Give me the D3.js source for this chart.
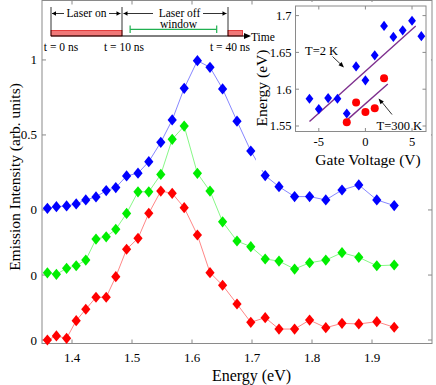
<!DOCTYPE html>
<html>
<head>
<meta charset="utf-8">
<script src="https://cdn.jsdelivr.net/npm/d3@7"></script>
<style>
  body { margin: 0; background: #fff; }
  svg { display: block; }
  text { font-family: 'Liberation Serif', 'DejaVu Serif', serif; }
</style>
</head>
<body>
<div id="chart"></div>
<script>
// main spectra
const energy = [1.359, 1.374, 1.391, 1.407, 1.423, 1.440, 1.457, 1.473, 1.491, 1.510,
  1.528, 1.548, 1.567, 1.587, 1.609, 1.630, 1.651, 1.675, 1.698, 1.722,
  1.745, 1.771, 1.796, 1.823, 1.850, 1.878, 1.908, 1.937];
const blueI = [0.011, 0.022, 0.027, 0.040, 0.067, 0.087, 0.129, 0.149, 0.227, 0.245,
  0.322, 0.451, 0.600, 0.811, 0.995, 0.951, 0.807, 0.592, 0.393, 0.229,
  0.155, 0.089, 0.089, 0.067, 0.133, 0.167, 0.067, 0.029];
const greenI = [0.015, 0.005, 0.045, 0.062, 0.100, 0.240, 0.255, 0.305, 0.411, 0.555,
  0.555, 0.671, 0.905, 0.993, 0.678, 0.560, 0.355, 0.227, 0.189, 0.107,
  0.093, 0.040, 0.082, 0.100, 0.149, 0.118, 0.062, 0.067];
const redI = [0.000, 0.027, 0.011, 0.129, 0.205, 0.285, 0.285, 0.422, 0.605, 0.678,
  0.845, 0.993, 0.978, 0.882, 0.700, 0.449, 0.365, 0.240, 0.118, 0.149,
  0.073, 0.073, 0.133, 0.082, 0.111, 0.107, 0.122, 0.085];
const offsets = [0, 0.433, 0.867];          // red, green, blue baselines
const seriesColors = ["#ff0000", "#00ee00", "#0000ff"];
const xTicks = [1.4, 1.5, 1.6, 1.7, 1.8, 1.9];
const yTickVals = [0, 0.433, 0.867, 1.367, 1.867];
const yTickLabels = ["0", "0", "0", "0.5", "1"];

// inset
const gateV = [-6, -5, -4, -3, -2, -1, 0, 1, 2, 3, 4, 5, 6];
const energy2K = [1.587, 1.573, 1.588, 1.587, 1.567, 1.631, 1.612, 1.646, 1.686, 1.671, 1.680, 1.693, 1.672];
const gateV300 = [-2, -1, 0, 1, 2];
const energy300K = [1.555, 1.582, 1.569, 1.574, 1.615];
const fit2K = [[-6, 1.556], [5.4, 1.686]];
const fit300K = [[-1.9, 1.559], [2.4, 1.607]];
const insetXTicks = [-5, 0, 5];
const insetYTicks = [1.55, 1.6, 1.65, 1.7];

// timing diagram (ns)
const pulses = [[0, 10], [40, 42]];
const offWindow = [12.3, 36.8];
const timeMarks = [0, 10, 40];

const W = 436, H = 385;
const svg = d3.select("#chart").append("svg").attr("width", W).attr("height", H)
  .attr("font-family", "'Liberation Serif', serif");
const axisCol = "#8a8a8a";

const x = d3.scaleLinear().domain([1.35, 2.0]).range([42, 432]);
const y = d3.scaleLinear().domain([0, 1]).range([340, 190]);
const yTop = y.invert(0.5), yBot = y.invert(343.5);

// diamond marker with its own half width / half height
const rhombus = (hw, hh) => ({
  draw(ctx) { ctx.moveTo(0, -hh); ctx.lineTo(hw, 0); ctx.lineTo(0, hh); ctx.lineTo(-hw, 0); ctx.closePath(); }
});
const diamond = d3.symbol().type(rhombus(4.6, 5.6));

// plot frame
svg.append("rect")
  .attr("x", x(1.35)).attr("y", y(yTop))
  .attr("width", x(2.0) - x(1.35)).attr("height", y(yBot) - y(yTop))
  .attr("fill", "none").attr("stroke", axisCol).attr("stroke-width", 1);

// ticks, inward, mirrored
const tickG = svg.append("g").attr("stroke", axisCol).attr("stroke-width", 1);
xTicks.forEach(t => {
  tickG.append("line").attr("x1", x(t)).attr("x2", x(t)).attr("y1", y(yBot)).attr("y2", y(yBot) - 4);
  tickG.append("line").attr("x1", x(t)).attr("x2", x(t)).attr("y1", y(yTop)).attr("y2", y(yTop) + 4);
});
yTickVals.forEach(t => {
  tickG.append("line").attr("x1", x(1.35)).attr("x2", x(1.35) + 4).attr("y1", y(t)).attr("y2", y(t));
  tickG.append("line").attr("x1", x(2.0)).attr("x2", x(2.0) - 4).attr("y1", y(t)).attr("y2", y(t));
});
svg.append("g").selectAll("text").data(xTicks).join("text")
  .attr("x", d => x(d)).attr("y", 362).attr("text-anchor", "middle")
  .attr("font-size", 13).text(d => d3.format(".1f")(d));
svg.append("g").selectAll("text").data(yTickVals).join("text")
  .attr("x", 37).attr("y", d => y(d) + 4.5).attr("text-anchor", "end")
  .attr("font-size", 13).text((d, i) => yTickLabels[i]);

svg.append("text").attr("x", 251.5).attr("y", 381).attr("text-anchor", "middle")
  .attr("font-size", 16).text("Energy (eV)");
svg.append("text").attr("transform", "translate(20,177) rotate(-90)")
  .attr("text-anchor", "middle").attr("font-size", 15.5).text("Emission Intensity (arb. units)");

// spectra
[redI, greenI, blueI].forEach((vals, k) => {
  const pts = energy.map((e, i) => [e, vals[i] + offsets[k]]);
  const g = svg.append("g");
  g.append("path").datum(pts)
    .attr("d", d3.line().x(d => x(d[0])).y(d => y(d[1])))
    .attr("fill", "none").attr("stroke", seriesColors[k]).attr("stroke-width", 0.8).attr("stroke-opacity", 0.6);
  g.selectAll("path.m").data(pts).join("path").attr("class", "m")
    .attr("transform", d => `translate(${x(d[0])},${y(d[1])})`)
    .attr("d", diamond).attr("fill", seriesColors[k]);
});

// inset
const ix = d3.scaleLinear().domain([-7.5, 6.5]).range([295.5, 426]);
const iy = d3.scaleLinear().domain([1.55, 1.7]).range([126, 15.6]);
const ig = svg.append("g");
ig.append("rect").attr("x", 256).attr("y", 2).attr("width", 175).attr("height", 168).attr("fill", "#fff");
ig.append("rect").attr("x", ix(-7.5)).attr("y", 6).attr("width", ix(6.5) - ix(-7.5)).attr("height", 125.5)
  .attr("fill", "#fff").attr("stroke", axisCol).attr("stroke-width", 1);
insetXTicks.forEach(v => {
  ig.append("line").attr("x1", ix(v)).attr("x2", ix(v)).attr("y1", 131.5).attr("y2", 128).attr("stroke", axisCol);
  ig.append("line").attr("x1", ix(v)).attr("x2", ix(v)).attr("y1", 6).attr("y2", 9.5).attr("stroke", axisCol);
});
insetYTicks.forEach(v => {
  ig.append("line").attr("x1", ix(-7.5)).attr("x2", ix(-7.5) + 3.5).attr("y1", iy(v)).attr("y2", iy(v)).attr("stroke", axisCol);
  ig.append("line").attr("x1", ix(6.5)).attr("x2", ix(6.5) - 3.5).attr("y1", iy(v)).attr("y2", iy(v)).attr("stroke", axisCol);
});
ig.selectAll("text.xt").data(insetXTicks).join("text").attr("class", "xt")
  .attr("x", d => ix(d)).attr("y", 146).attr("text-anchor", "middle").attr("font-size", 12.5).text(d => d);
ig.selectAll("text.yt").data(insetYTicks).join("text").attr("class", "yt")
  .attr("x", 291.5).attr("y", d => iy(d) + 4.3).attr("text-anchor", "end").attr("font-size", 12.5)
  .text(d => d3.format("")(d));
ig.append("text").attr("x", 368).attr("y", 165).attr("text-anchor", "middle").attr("font-size", 15.5).text("Gate Voltage (V)");
ig.append("text").attr("transform", "translate(267,88) rotate(-90)").attr("text-anchor", "middle")
  .attr("font-size", 15.5).text("Energy (eV)");

const purple = "#7e2f8e";
[fit2K, fit300K].forEach(f => {
  ig.append("path").datum(f).attr("d", d3.line().x(d => ix(d[0])).y(d => iy(d[1])))
    .attr("stroke", purple).attr("stroke-width", 1.4).attr("fill", "none");
});
ig.selectAll("path.d2").data(gateV).join("path").attr("class", "d2")
  .attr("transform", (d, i) => `translate(${ix(d)},${iy(energy2K[i])})`)
  .attr("d", d3.symbol().type(rhombus(3.9, 5.1))).attr("fill", "#0000ff");
ig.selectAll("circle").data(gateV300).join("circle")
  .attr("cx", d => ix(d)).attr("cy", (d, i) => iy(energy300K[i])).attr("r", 4).attr("fill", "#ff0000");

// annotations
ig.append("text").attr("x", 305).attr("y", 54.5).attr("font-size", 12.5).text("T=2 K");
ig.append("line").attr("x1", 332.5).attr("y1", 56.5).attr("x2", 341.5).attr("y2", 65).attr("stroke", "#000").attr("stroke-width", 0.8);
ig.append("path").attr("d", "M344,67.5 L338.5,65.2 L341.6,62 Z").attr("fill", "#000");
ig.append("text").attr("x", 376.5).attr("y", 130).attr("font-size", 12.5).text("T=300 K");
ig.append("line").attr("x1", 392).attr("y1", 114.5).attr("x2", 381).attr("y2", 101).attr("stroke", "#000").attr("stroke-width", 0.8);
ig.append("path").attr("d", "M378.5,98.5 L380.5,104.2 L383.8,101.5 Z").attr("fill", "#000");

// timing diagram (drawn last so "Time" sits over the inset margin)
const t = d3.scaleLinear().domain([0, 10, 40, 42]).range([51, 122, 228, 242.5]);
const dg = svg.append("g");
dg.selectAll("rect").data(pulses).join("rect")
  .attr("x", d => t(d[0])).attr("width", d => t(d[1]) - t(d[0]))
  .attr("y", 30.5).attr("height", 5.5)
  .attr("fill", "#f07878").attr("stroke", "#e02020").attr("stroke-width", 0.8);
dg.append("line").attr("x1", t(0)).attr("x2", 246).attr("y1", 36).attr("y2", 36)
  .attr("stroke", "#000").attr("stroke-width", 1);
dg.append("path").attr("d", "M251,36 L244,33 L244,39 Z").attr("fill", "#000");
dg.append("text").attr("x", 251).attr("y", 40.5).attr("font-size", 11.5).text("Time");
timeMarks.forEach(m => {
  dg.append("line").attr("x1", t(m)).attr("x2", t(m)).attr("y1", 7).attr("y2", 36)
    .attr("stroke", "#000").attr("stroke-width", 0.8);
});
dg.selectAll("text.tm").data(timeMarks).join("text").attr("class", "tm")
  .attr("x", d => t(d) + (d === 0 ? 10 : 2)).attr("y", 51).attr("text-anchor", "middle")
  .attr("font-size", 11.5).text(d => `t = ${d} ns`);
// window
const gw = "#20b050";
dg.append("line").attr("x1", t(offWindow[0])).attr("x2", t(offWindow[1])).attr("y1", 29.3).attr("y2", 29.3)
  .attr("stroke", gw).attr("stroke-width", 1.2);
offWindow.forEach(w => dg.append("line").attr("x1", t(w)).attr("x2", t(w)).attr("y1", 25.5).attr("y2", 33)
  .attr("stroke", gw).attr("stroke-width", 1.2));
// arrows with labels
function arrow(x1, x2, yy) {
  dg.append("line").attr("x1", x1).attr("x2", x2).attr("y1", yy).attr("y2", yy).attr("stroke", "#000").attr("stroke-width", 0.8);
  const dir = x2 > x1 ? -1 : 1;
  dg.append("path").attr("d", `M${x2},${yy} L${x2 + dir * 4},${yy - 2.2} L${x2 + dir * 4},${yy + 2.2} Z`).attr("fill", "#000");
}
arrow(64, 52, 13.5); arrow(109, 120.5, 13.5);
arrow(153, 123.5, 13.5); arrow(203, 226.5, 13.5);
dg.append("text").attr("x", 86.5).attr("y", 17).attr("text-anchor", "middle").attr("font-size", 11.5).text("Laser on");
dg.append("text").attr("x", 179.5).attr("y", 17).attr("text-anchor", "middle").attr("font-size", 11.5).text("Laser off");
dg.append("text").attr("x", 178.5).attr("y", 27.5).attr("text-anchor", "middle").attr("font-size", 11.5).text("window");
</script>
</body>
</html>
